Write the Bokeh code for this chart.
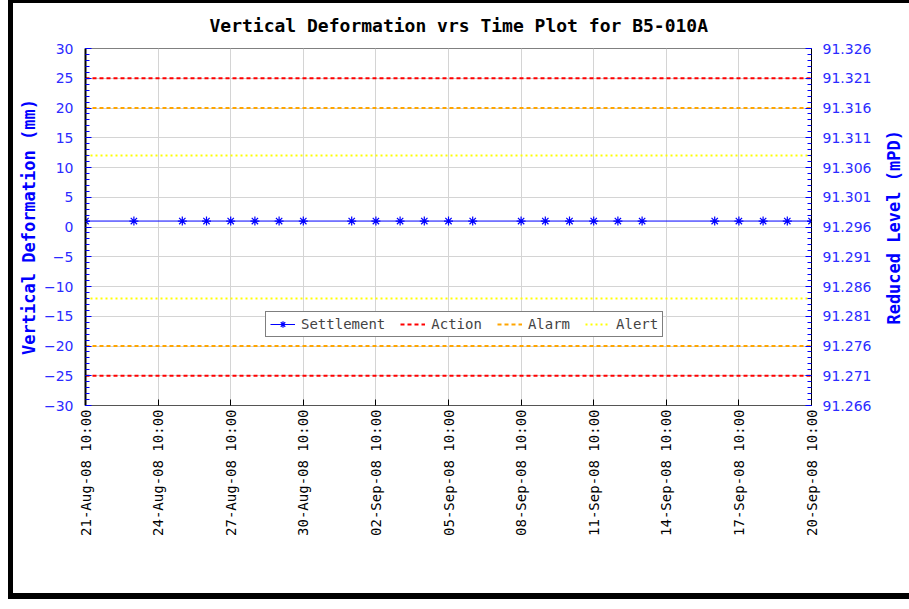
import math
import pandas as pd
from bokeh.plotting import figure
from bokeh.models import (Range1d, LinearAxis, FixedTicker, DatetimeTickFormatter,
                          NumeralTickFormatter, Legend, LegendItem)
from bokeh.embed import file_html
from bokeh.resources import INLINE

# ---------------- data ----------------
dates = ["2008-08-21 10:00", "2008-08-23 10:00", "2008-08-25 10:00", "2008-08-26 10:00",
         "2008-08-27 10:00", "2008-08-28 10:00", "2008-08-29 10:00", "2008-08-30 10:00",
         "2008-09-01 10:00", "2008-09-02 10:00", "2008-09-03 10:00", "2008-09-04 10:00",
         "2008-09-05 10:00", "2008-09-06 10:00", "2008-09-08 10:00", "2008-09-09 10:00",
         "2008-09-10 10:00", "2008-09-11 10:00", "2008-09-12 10:00", "2008-09-13 10:00",
         "2008-09-16 10:00", "2008-09-17 10:00", "2008-09-18 10:00", "2008-09-19 10:00",
         "2008-09-20 10:00"]
settlement = [1.0, 1.0, 1.0, 1.0, 1.0, 1.0, 1.0, 1.0, 1.0, 1.0, 1.0, 1.0, 1.0,
              1.0, 1.0, 1.0, 1.0, 1.0, 1.0, 1.0, 1.0, 1.0, 1.0, 1.0, 1.0]

action_limit = 25
alarm_limit = 20
alert_limit = 12

x_tick_labels = ["2008-08-21 10:00", "2008-08-24 10:00", "2008-08-27 10:00",
                 "2008-08-30 10:00", "2008-09-02 10:00", "2008-09-05 10:00",
                 "2008-09-08 10:00", "2008-09-11 10:00", "2008-09-14 10:00",
                 "2008-09-17 10:00", "2008-09-20 10:00"]
left_ticks = [-30, -25, -20, -15, -10, -5, 0, 5, 10, 15, 20, 25, 30]
right_ticks = [91.266, 91.271, 91.276, 91.281, 91.286, 91.291, 91.296,
               91.301, 91.306, 91.311, 91.316, 91.321, 91.326]

title_text = "Vertical Deformation vrs Time Plot for B5-010A"
left_label = "Vertical Deformation (mm)"
right_label = "Reduced Level (mPD)"

# ---------------- helpers ----------------
def to_ms(s):
    return pd.Timestamp(s).timestamp() * 1000.0

t = [to_ms(d) for d in dates]
xt = [to_ms(d) for d in x_tick_labels]
t0, t1 = t[0], t[-1]

BLUE = "#0000ff"
LBLUE = "#2b2bff"
MONO = "DejaVu Sans Mono"

p = figure(frame_width=726, frame_height=357, x_axis_type="datetime",
           x_range=Range1d(t0, t1), y_range=Range1d(left_ticks[0], left_ticks[-1]),
           output_backend="svg", toolbar_location=None,
           min_border_left=72, min_border_right=98, min_border_top=44,
           min_border_bottom=198)
p.styles = {"margin-left": "8px", "max-height": "599px", "overflow": "hidden",
            "border-left": "5px solid black", "border-top": "3px solid black",
            "border-bottom": "6px solid black"}

p.title.text = title_text
p.title.text_font = MONO
p.title.text_font_style = "bold"
p.title.text_font_size = "18px"
p.title.align = "left"
p.title.offset = 124
p.title.standoff = 22
p.title.vertical_align = "top"
p.title.text_color = "black"

p.outline_line_color = "#808080"
p.background_fill_color = "white"
p.border_fill_color = "white"

# grids
p.xgrid.grid_line_color = "#d4d4d4"
p.ygrid.grid_line_color = "#d4d4d4"
p.xgrid.grid_line_width = 1
p.ygrid.grid_line_width = 1

# x axis
xax = p.xaxis[0]
xax.ticker = FixedTicker(ticks=xt, minor_ticks=[])
fmt = "%d-%b-%y %H:%M"
xax.formatter = DatetimeTickFormatter(microseconds=fmt, milliseconds=fmt, seconds=fmt,
                                      minsec=fmt, minutes=fmt, hourmin=fmt, hours=fmt,
                                      days=fmt, months=fmt, years=fmt)
xax.major_label_orientation = math.pi / 2
xax.major_label_text_font = MONO
xax.major_label_text_font_size = "14px"
xax.major_label_text_color = "black"
xax.major_tick_in = 6
xax.major_tick_out = 0
xax.major_tick_line_color = "black"
xax.axis_line_color = "#555555"
xax.major_label_standoff = 4

# left axis
yax = p.yaxis[0]
yax.ticker = FixedTicker(ticks=left_ticks, minor_ticks=list(range(-30, 31)))
yax.major_tick_in = 6
yax.major_tick_out = 0
yax.minor_tick_in = 4
yax.minor_tick_out = 0
yax.major_tick_line_color = BLUE
yax.minor_tick_line_color = BLUE
yax.axis_line_color = "black"
yax.axis_line_width = 2
yax.major_label_text_color = LBLUE
yax.major_label_text_font = "DejaVu Sans"
yax.major_label_text_font_size = "14px"
yax.major_label_standoff = 12
yax.axis_label = left_label
yax.axis_label_text_font = MONO
yax.axis_label_text_font_style = "bold"
yax.axis_label_text_font_size = "17px"
yax.axis_label_text_color = BLUE
yax.axis_label_standoff = 2

# right axis (ticks and tick labels)
p.extra_y_ranges = {"rl": Range1d(right_ticks[0], right_ticks[-1])}
rminor = [round(right_ticks[0] + 0.001 * i, 3) for i in range(61)]
rax = LinearAxis(y_range_name="rl", ticker=FixedTicker(ticks=right_ticks, minor_ticks=rminor),
                 formatter=NumeralTickFormatter(format="0.000"))
rax.major_tick_in = 6
rax.major_tick_out = 0
rax.minor_tick_in = 4
rax.minor_tick_out = 0
rax.major_tick_line_color = BLUE
rax.minor_tick_line_color = BLUE
rax.axis_line_color = "black"
rax.axis_line_width = 1
rax.major_label_text_color = LBLUE
rax.major_label_text_font = "DejaVu Sans"
rax.major_label_text_font_size = "14px"
rax.major_label_standoff = 11
p.add_layout(rax, "right")

# right axis title, read from bottom to top: drawn as a single rotated tick label
# whose start sits at label_start on the mPD scale
label_start = 91.2796
lab_ax = LinearAxis(y_range_name="rl",
                    ticker=FixedTicker(ticks=[label_start], minor_ticks=[]),
                    major_label_overrides={label_start: right_label})
lab_ax.axis_line_color = None
lab_ax.major_tick_in = 0
lab_ax.major_tick_out = 0
lab_ax.minor_tick_in = 0
lab_ax.minor_tick_out = 0
lab_ax.major_label_orientation = math.pi / 2
lab_ax.major_label_text_font = MONO
lab_ax.major_label_text_font_style = "bold"
lab_ax.major_label_text_font_size = "17px"
lab_ax.major_label_text_color = BLUE
lab_ax.major_label_standoff = 20
p.add_layout(lab_ax, "right")

# threshold lines
def limit_lines(lim, color, dash):
    return p.multi_line(xs=[[t0, t1], [t0, t1]], ys=[[lim, lim], [-lim, -lim]],
                        line_color=color, line_width=2, line_dash=dash)

r_action = limit_lines(action_limit, "#ff0000", "4 3")
r_alarm = limit_lines(alarm_limit, "#ffa500", "4 3")
r_alert = limit_lines(alert_limit, "#ffff00", "2 3")

# settlement
r_line = p.line(t, settlement, line_color=BLUE, line_width=1)
r_pts = p.scatter(t, settlement, marker="asterisk", size=9, line_color=BLUE, line_width=1.2)

legend = Legend(items=[LegendItem(label="Settlement", renderers=[r_line, r_pts]),
                       LegendItem(label="Action", renderers=[r_action]),
                       LegendItem(label="Alarm", renderers=[r_alarm]),
                       LegendItem(label="Alert", renderers=[r_alert])],
                location=(180, 68), orientation="horizontal")
legend.border_line_color = "black"
legend.border_line_width = 1
legend.background_fill_color = "white"
legend.background_fill_alpha = 1.0
legend.label_text_font = MONO
legend.label_text_font_size = "14px"
legend.glyph_width = 25
legend.glyph_height = 16
legend.spacing = 15
legend.padding = 4
legend.margin = 0
legend.label_standoff = 6
p.add_layout(legend)

open("out.html", "w").write(file_html(p, INLINE))
